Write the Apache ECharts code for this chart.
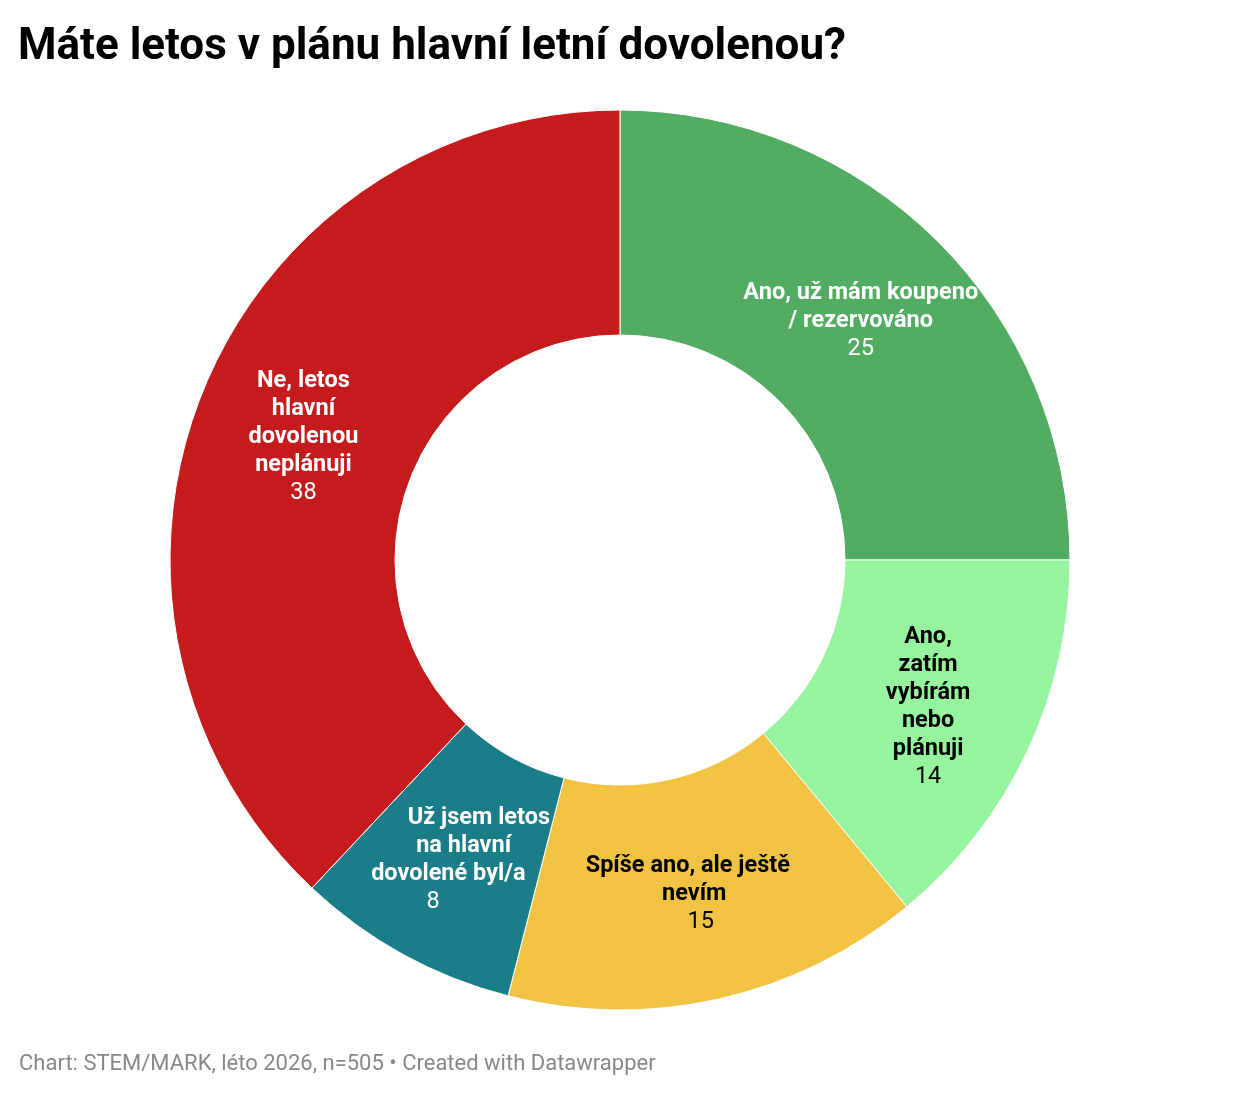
<!DOCTYPE html>
<html>
<head>
<meta charset="utf-8">
<script src="https://cdn.jsdelivr.net/npm/echarts@6/dist/echarts.min.js"></script>
<style>
  html, body { margin: 0; padding: 0; background: #fff; }
  #chart { width: 1240px; height: 1096px; }
</style>
</head>
<body>
<div id="chart"></div>
<script>
var chartDom = document.getElementById('chart');
var myChart = echarts.init(chartDom);

// answers, clockwise from 12 o'clock
var categories = [
  'Ano, už mám koupeno\n/ rezervováno',
  'Ano,\nzatím\nvybírám\nnebo\nplánuji',
  'Spíše ano, ale ještě\nnevím',
  'Už jsem letos\nna hlavní\ndovolené byl/a',
  'Ne, letos\nhlavní\ndovolenou\nneplánuji'
];
var values = [25, 14, 15, 8, 38];
var colors = ['#52ad62', '#96f39e', '#f2c342', '#1a7d87', '#c51b1d'];
var labelColors = ['#fff', '#000', '#000', '#fff', '#fff'];
// horizontal shift per line of the label block (px), datawrapper staggers some labels
var labelSkew = [0, 0, 6.5, -15.3, 0];

var data = categories.map(function (name, i) {
  var lines = name.split('\n');
  var n = lines.length + 1;
  var rich = {};
  var parts = [];
  for (var j = 0; j < n; j++) {
    var d = labelSkew[i] * (j - (n - 1) / 2);
    var isValue = j === n - 1;
    rich['l' + j] = {
      color: labelColors[i],
      fontWeight: isValue ? 'normal' : 'bold',
      fontSize: 23.5,
      lineHeight: 28,
      fontFamily: 'Roboto',
      padding: d >= 0 ? [0, 0, 0, 2 * d] : [0, -2 * d, 0, 0]
    };
    parts.push('{l' + j + '|' + (isValue ? values[i] : lines[j]) + '}');
  }
  return {
    name: name,
    value: values[i],
    itemStyle: { color: colors[i] },
    label: { formatter: parts.join('\n'), rich: rich }
  };
});

var option = {
  backgroundColor: '#fff',
  animation: false,
  title: [
    {
      text: 'Máte letos v plánu hlavní letní dovolenou?',
      left: 18,
      top: 26,
      padding: 0,
      textStyle: { fontFamily: 'Roboto', fontWeight: 'bold', fontSize: 44, color: '#000' }
    },
    {
      text: 'Chart: STEM/MARK, léto 2026, n=505 • Created with Datawrapper',
      left: 19,
      top: 1053,
      padding: 0,
      textStyle: { fontFamily: 'Roboto', fontWeight: 'normal', fontSize: 22, color: '#888' }
    }
  ],
  series: [
    {
      type: 'pie',
      center: [620, 560],
      radius: [225, 450],
      startAngle: 90,
      clockwise: true,
      silent: true,
      itemStyle: { borderColor: '#fff', borderWidth: 1 },
      label: {
        show: true,
        position: 'inside',
        align: 'center',
        offset: [0, 2]
      },
      labelLine: { show: false },
      data: data
    }
  ]
};

option && myChart.setOption(option);
</script>
</body>
</html>
